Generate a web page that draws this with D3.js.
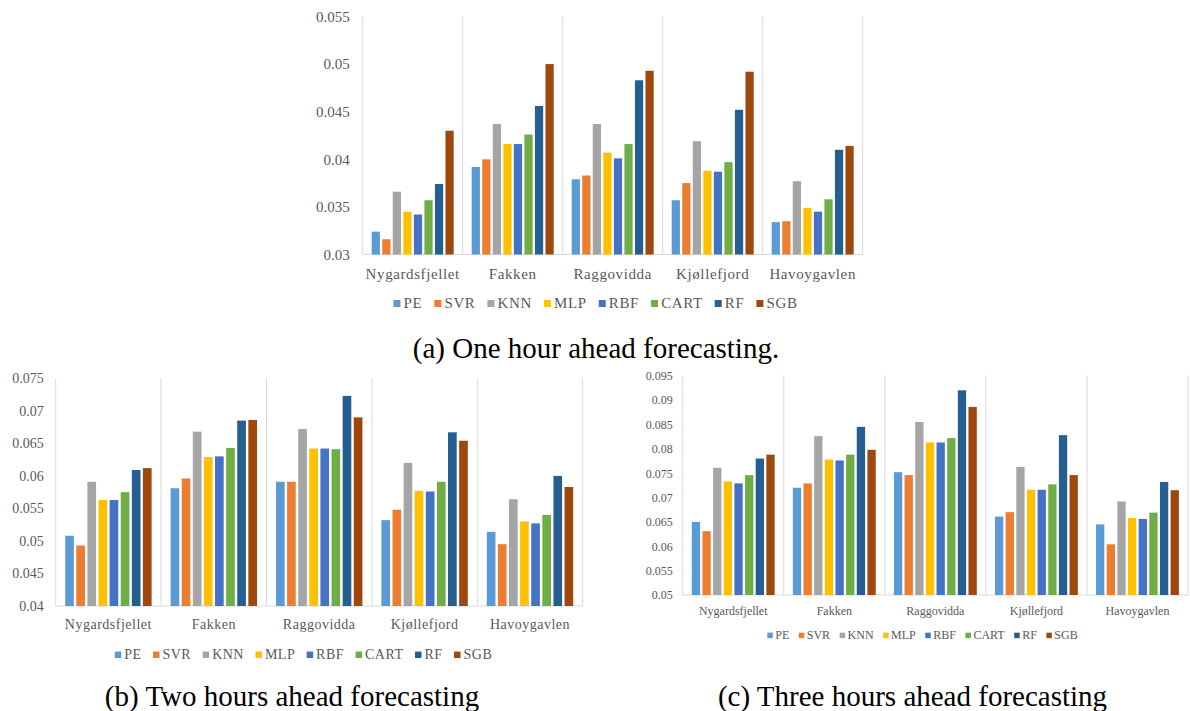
<!DOCTYPE html>
<html>
<head>
<meta charset="utf-8">
<script src="https://cdn.jsdelivr.net/npm/d3@7"></script>
<style>
  html, body { margin: 0; padding: 0; background: #fff; }
  svg { display: block; }
</style>
</head>
<body>
<svg id="chart" width="1190" height="711"></svg>
<script>
// ---------- DATA ----------
const categories = ["Nygardsfjellet", "Fakken", "Raggovidda", "Kjøllefjord", "Havoygavlen"];
const seriesNames = ["PE", "SVR", "KNN", "MLP", "RBF", "CART", "RF", "SGB"];

// rows = series (PE..SGB), columns = categories
const oneHourValues = [
  [0.0324, 0.0392, 0.0379, 0.0357, 0.0334],
  [0.0316, 0.0400, 0.0383, 0.0375, 0.0335],
  [0.0366, 0.0437, 0.0437, 0.0419, 0.0377],
  [0.0345, 0.0416, 0.0407, 0.0388, 0.0349],
  [0.0342, 0.0416, 0.0401, 0.0387, 0.0345],
  [0.0357, 0.0426, 0.0416, 0.0397, 0.0358],
  [0.0374, 0.0456, 0.0483, 0.0452, 0.0410],
  [0.0430, 0.0500, 0.0493, 0.0492, 0.0414]
];
const twoHourValues = [
  [0.0508, 0.0581, 0.0591, 0.0532, 0.0514],
  [0.0493, 0.0596, 0.0591, 0.0548, 0.0495],
  [0.0591, 0.0668, 0.0672, 0.0620, 0.0564],
  [0.0563, 0.0629, 0.0642, 0.0577, 0.0530],
  [0.0563, 0.0630, 0.0642, 0.0576, 0.0527],
  [0.0575, 0.0643, 0.0641, 0.0591, 0.0540],
  [0.0609, 0.0685, 0.0723, 0.0667, 0.0600],
  [0.0612, 0.0686, 0.0690, 0.0654, 0.0583]
];
const threeHourValues = [
  [0.0650, 0.0720, 0.0752, 0.0661, 0.0645],
  [0.0631, 0.0729, 0.0746, 0.0670, 0.0604],
  [0.0761, 0.0826, 0.0855, 0.0763, 0.0692],
  [0.0733, 0.0778, 0.0813, 0.0716, 0.0658],
  [0.0729, 0.0776, 0.0813, 0.0716, 0.0656],
  [0.0746, 0.0788, 0.0822, 0.0727, 0.0669],
  [0.0780, 0.0845, 0.0920, 0.0828, 0.0732],
  [0.0788, 0.0798, 0.0886, 0.0746, 0.0715]
];

const oneHourTicks = [0.03, 0.035, 0.04, 0.045, 0.05, 0.055];
const twoHourTicks = [0.04, 0.045, 0.05, 0.055, 0.06, 0.065, 0.07, 0.075];
const threeHourTicks = [0.05, 0.055, 0.06, 0.065, 0.07, 0.075, 0.08, 0.085, 0.09, 0.095];

const captions = ["(a) One hour ahead forecasting.", "(b) Two hours ahead forecasting", "(c) Three hours ahead forecasting"];

// ---------- STYLE ----------
const seriesColors = ["#5B9BD5", "#ED7D31", "#A5A5A5", "#FFC000", "#4472C4", "#70AD47", "#255E91", "#9E480E"];
const textGray = "#595959";
const gridGray = "#d9d9d9";
const FONT = "Liberation Serif";

const svg = d3.select("#chart");

function drawChart(values, ticks, L) {
  const g = svg.append("g");
  const x0 = d3.scaleBand().domain(categories).range([L.left, L.right]).paddingInner(0.18).paddingOuter(0.09);
  const x1 = d3.scaleBand().domain(seriesNames).range([0, x0.bandwidth()]).paddingInner(0.22);
  const y = d3.scaleLinear().domain([ticks[0], ticks[ticks.length - 1]]).range([L.bottom, L.top]);
  const step = x0.step();

  // category separators
  const seps = d3.range(categories.length + 1).map(i => L.left + i * step);
  g.selectAll("line.sep").data(seps).join("line")
    .attr("x1", d => d).attr("x2", d => d)
    .attr("y1", L.top).attr("y2", L.bottom)
    .attr("stroke", gridGray).attr("stroke-width", 1);
  g.append("line").attr("x1", L.left).attr("x2", L.right)
    .attr("y1", L.bottom).attr("y2", L.bottom)
    .attr("stroke", gridGray).attr("stroke-width", 1);

  // bars
  const flat = [];
  seriesNames.forEach((s, si) => categories.forEach((c, ci) => flat.push({ s, si, c, v: values[si][ci] })));
  g.selectAll("rect.bar").data(flat).join("rect")
    .attr("x", d => x0(d.c) + x1(d.s))
    .attr("width", x1.bandwidth())
    .attr("y", d => y(d.v))
    .attr("height", d => L.bottom - y(d.v))
    .attr("fill", d => seriesColors[d.si]);

  // y axis
  const ay = g.append("g").attr("transform", `translate(${L.left - L.tickGap},0)`)
    .call(d3.axisLeft(y).tickValues(ticks).tickSize(0).tickPadding(0).tickFormat(d => String(d)));
  ay.attr("font-family", FONT).attr("font-size", L.fs);
  ay.select(".domain").remove();
  ay.selectAll("text").attr("fill", textGray).attr("font-family", FONT).attr("font-size", L.fs);

  // x labels
  g.selectAll("text.cat").data(categories).join("text")
    .attr("x", d => x0(d) + x0.bandwidth() / 2)
    .attr("y", L.catY)
    .attr("text-anchor", "middle")
    .attr("fill", textGray).attr("font-family", FONT).attr("font-size", L.fs)
    .attr("letter-spacing", L.ls)
    .text(d => d);

  // legend
  const lg = g.append("g");
  const sq = L.sq;
  const items = [];
  seriesNames.forEach((s, i) => {
    const it = lg.append("g");
    it.append("rect").attr("x", 0).attr("y", -sq / 2 - L.fs * 0.3).attr("width", sq).attr("height", sq).attr("fill", seriesColors[i]);
    const t = it.append("text").attr("x", sq + L.sq * 0.45).attr("y", 0)
      .attr("fill", textGray).attr("font-family", FONT).attr("font-size", L.fs)
      .attr("letter-spacing", L.ls).text(s);
    const w = sq + L.sq * 0.45 + t.node().getComputedTextLength();
    items.push({ it, w });
  });
  const total = d3.sum(items, d => d.w) + L.itemGap * (items.length - 1);
  let cx = L.legendCenter - total / 2;
  items.forEach(d => { d.it.attr("transform", `translate(${cx},${L.legendY})`); cx += d.w + L.itemGap; });

  // caption
  svg.append("text").attr("x", L.capX).attr("y", L.capY).attr("text-anchor", "middle")
    .attr("fill", "#000").attr("font-family", FONT).attr("font-size", L.capFs).text(L.caption);
}

drawChart(oneHourValues, oneHourTicks, {
  left: 362.7, right: 862.7, top: 16.5, bottom: 254.5, tickGap: 13, fs: 15, ls: 0.6,
  catY: 279, legendY: 308, legendCenter: 595.5, sq: 7, itemGap: 12,
  caption: captions[0], capX: 596, capY: 358, capFs: 29
});
drawChart(twoHourValues, twoHourTicks, {
  left: 55.7, right: 582.7, top: 378.3, bottom: 606, tickGap: 12, fs: 14, ls: 0.5,
  catY: 629, legendY: 659, legendCenter: 303.5, sq: 6.5, itemGap: 11.5,
  caption: captions[1], capX: 292, capY: 706, capFs: 29
});
drawChart(threeHourValues, threeHourTicks, {
  left: 682.7, right: 1188, top: 375.7, bottom: 595, tickGap: 10, fs: 12, ls: 0,
  catY: 615, legendY: 639, legendCenter: 922.5, sq: 5.5, itemGap: 9.5,
  caption: captions[2], capX: 912.5, capY: 706, capFs: 29
});
</script>
</body>
</html>
